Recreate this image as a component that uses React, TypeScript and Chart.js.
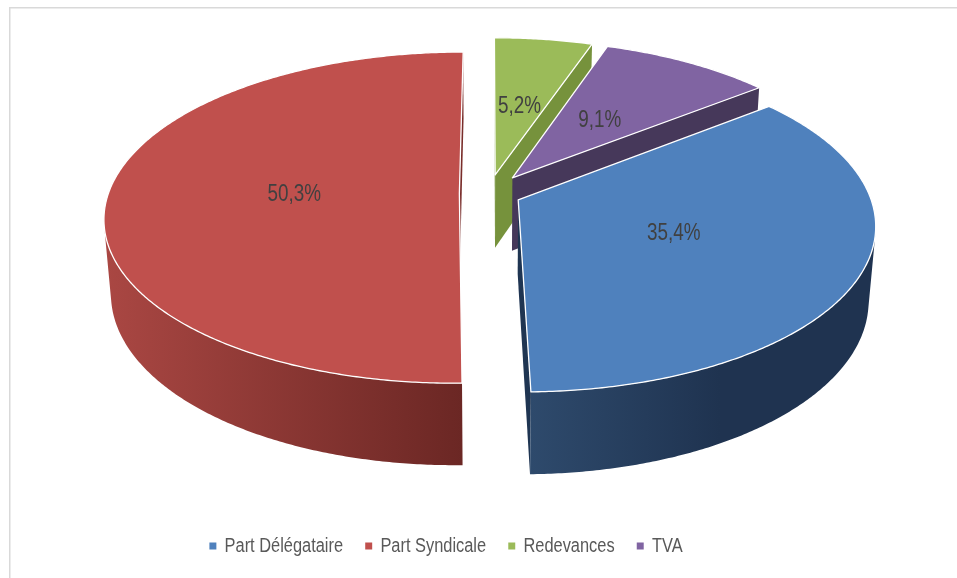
import React, { useEffect, useRef } from 'react';
import { Chart, registerables } from 'chart.js';

Chart.register(...registerables);

// ---- data ----
const CATEGORIES = ['Part Délégataire', 'Part Syndicale', 'Redevances', 'TVA'];
const VALUES = [35.4, 50.3, 5.2, 9.1];

// ---- styles ----
const TOP_COLORS = ['#4F81BD', '#C0504D', '#9BBB59', '#8064A2'];
const WALL_LIGHT = ['#2E4A6C', '#AA4743', '#7E9C42', '#55446E'];
const WALL_DARK = ['#1F3350', '#6B2724', '#6F8A37', '#423556'];
const EDGE_COLORS = ['#1F3552', '#7A2E2B', '#76923C', '#46385A'];
const EXPLODE = [0.093, 0.083, 0.118, 0.12];
const FIRST_SLICE_ANGLE = 51.5;
const VIEW = { cx: 488.5, cy: 193.5, scale: 351, tilt: 27.5, dist: 6.12, depth: 0.241 };
const LABEL_RADIUS = 0.47;
const NARROW = 0.82; // horizontal squeeze imitating Arial Narrow

function fontAvailable(name: string) {
  const c = document.createElement('canvas').getContext('2d')!;
  const sample = 'Part Délégataire 50,3%';
  c.font = '20px monospace';
  const a = c.measureText(sample).width;
  c.font = `20px "${name}", monospace`;
  const b = c.measureText(sample).width;
  return Math.abs(a - b) > 0.5;
}

const PHI = (VIEW.tilt * Math.PI) / 180;
const SIN_P = Math.sin(PHI);
const COS_P = Math.cos(PHI);
const CAM_Y = -VIEW.dist * COS_P;

function proj(x: number, y: number, z: number): [number, number] {
  const v = y * SIN_P + z * COS_P;
  const w = y * COS_P - z * SIN_P;
  const k = 1 / (1 + w / VIEW.dist);
  return [VIEW.cx + VIEW.scale * x * k, VIEW.cy - VIEW.scale * v * k];
}

function rim(ox: number, oy: number, t1: number, t2: number, z: number) {
  const pts: [number, number][] = [];
  const n = Math.max(2, Math.ceil(Math.abs(t2 - t1) / (Math.PI / 360)));
  for (let j = 0; j <= n; j++) {
    const t = t1 + ((t2 - t1) * j) / n;
    pts.push(proj(ox + Math.sin(t), oy + Math.cos(t), z));
  }
  return pts;
}

function polyPath(ctx: CanvasRenderingContext2D, pts: [number, number][]) {
  ctx.beginPath();
  pts.forEach((p, j) => (j ? ctx.lineTo(p[0], p[1]) : ctx.moveTo(p[0], p[1])));
  ctx.closePath();
}

const pie3d = {
  id: 'pie3d',
  afterLayout(chart: any, _args: any, opts: any) {
    const lg = chart.legend;
    if (!lg || lg.__squeezed || (opts && opts.narrow)) return;
    const orig = lg.draw.bind(lg);
    lg.draw = (...a: any[]) => {
      const ctx = chart.ctx as CanvasRenderingContext2D;
      const p = (lg.left + lg.right) / 2;
      ctx.save();
      ctx.translate(p, 0);
      ctx.scale(NARROW, 1);
      ctx.translate(-p, 0);
      orig(...a);
      ctx.restore();
    };
    lg.__squeezed = true;
  },
  beforeDraw(chart: any) {
    const ctx = chart.ctx as CanvasRenderingContext2D;
    ctx.save();
    ctx.fillStyle = '#FFFFFF';
    ctx.fillRect(0, 0, chart.width, chart.height);
    ctx.fillStyle = '#D9D9D9';
    ctx.fillRect(9, 7, chart.width, 1.5);
    ctx.fillRect(9, 7, 1.5, chart.height);
    ctx.restore();
  },
  beforeDatasetsDraw(chart: any, _args: any, opts: any) {
    const ctx = chart.ctx as CanvasRenderingContext2D;
    const meta = chart.getDatasetMeta(0);
    const H = VIEW.depth;
    const slices = meta.data.map((arc: any, i: number) => {
      const { startAngle, endAngle } = arc.getProps(['startAngle', 'endAngle'], true);
      const t1 = startAngle + Math.PI / 2;
      const t2 = endAngle + Math.PI / 2;
      const tm = (t1 + t2) / 2;
      return { i, t1, t2, tm, ox: EXPLODE[i] * Math.sin(tm), oy: EXPLODE[i] * Math.cos(tm) };
    });
    const order = [...slices].sort((a, b) => b.oy - a.oy);
    ctx.save();
    ctx.lineJoin = 'round';
    for (const s of order) {
      const { i, t1, t2, ox, oy } = s;
      const apexT = proj(ox, oy, 0);
      const apexB = proj(ox, oy, -H);
      // radial walls
      const startVis = ox * Math.cos(t1) - Math.sin(t1) * (VIEW.dist * COS_P + oy) > 0;
      const endVis = -ox * Math.cos(t2) + Math.sin(t2) * (VIEW.dist * COS_P + oy) > 0;
      const radial = (t: number) => {
        const pT = proj(ox + Math.sin(t), oy + Math.cos(t), 0);
        const pB = proj(ox + Math.sin(t), oy + Math.cos(t), -H);
        polyPath(ctx, [apexT, pT, pB, apexB]);
        ctx.fillStyle = EDGE_COLORS[i];
        ctx.fill();
      };
      if (startVis) radial(t1);
      if (endVis) radial(t2);
      // outer wall: visible part
      const n = 720;
      let ta = -1, tb = -1;
      for (let j = 0; j <= n; j++) {
        const t = t1 + ((t2 - t1) * j) / n;
        const f = -ox * Math.sin(t) - (oy - CAM_Y) * Math.cos(t) - 1;
        if (f > 0) {
          if (ta < 0) ta = t;
          tb = t;
        }
      }
      if (ta >= 0 && tb > ta) {
        const top = rim(ox, oy, ta, tb, 0);
        const bot = rim(ox, oy, tb, ta, -H);
        const pts = top.concat(bot);
        const xs = pts.map((p) => p[0]);
        const minX = Math.min(...xs), maxX = Math.max(...xs);
        const g = ctx.createLinearGradient(minX, 0, maxX, 0);
        g.addColorStop(0, WALL_LIGHT[i]);
        g.addColorStop(i === 0 ? 0.55 : 1, WALL_DARK[i]);
        g.addColorStop(1, WALL_DARK[i]);
        polyPath(ctx, pts);
        ctx.fillStyle = g;
        ctx.fill();
      }
      // top face
      const topPts = [apexT, ...rim(ox, oy, t1, t2, 0)];
      polyPath(ctx, topPts);
      ctx.fillStyle = TOP_COLORS[i];
      ctx.fill();
      ctx.strokeStyle = '#FFFFFF';
      ctx.lineWidth = 1.3;
      ctx.stroke();
    }
    // labels
    const narrow = opts && opts.narrow;
    const total = VALUES.reduce((a, b) => a + b, 0);
    for (const s of slices) {
      const r = LABEL_RADIUS;
      const [px, py] = proj(s.ox + r * Math.sin(s.tm), s.oy + r * Math.cos(s.tm), 0);
      const pct = ((VALUES[s.i] / total) * 100).toFixed(1).replace('.', ',') + '%';
      ctx.save();
      ctx.translate(px, py);
      if (!narrow) ctx.scale(NARROW, 1);
      ctx.font = narrow ? '23px "Liberation Sans Narrow"' : '23px "Liberation Sans", Arial, sans-serif';
      ctx.textAlign = 'center';
      ctx.textBaseline = 'middle';
      ctx.fillStyle = '#404040';
      ctx.fillText(pct, 0, 0);
      ctx.restore();
    }
    ctx.restore();
    return false;
  },
};

export default function App() {
  const ref = useRef<HTMLCanvasElement>(null);
  useEffect(() => {
    const canvas = ref.current!;
    const narrow = fontAvailable('Liberation Sans Narrow');
    const legendLabels = narrow
      ? { font: { family: '"Liberation Sans Narrow"', size: 20 }, boxWidth: 7, pointStyleWidth: 7, padding: 22 }
      : { font: { family: '"Liberation Sans", Arial, sans-serif', size: 20 }, boxWidth: 8.5, pointStyleWidth: 8.5, padding: 27 };
    const chart = new Chart(canvas, {
      type: 'pie',
      data: {
        labels: CATEGORIES,
        datasets: [{ data: VALUES, backgroundColor: TOP_COLORS, borderWidth: 0 }],
      },
      options: {
        responsive: false,
        animation: false,
        events: [],
        rotation: FIRST_SLICE_ANGLE,
        layout: { padding: { bottom: 12, right: 65, left: 0, top: 0 } },
        plugins: {
          legend: {
            position: 'bottom',
            labels: {
              usePointStyle: true,
              pointStyle: 'rect',
              boxHeight: 7,
              color: '#595959',
              ...legendLabels,
            },
          },
          tooltip: { enabled: false },
          pie3d: { narrow },
        } as any,
      },
      plugins: [pie3d as any],
    });
    return () => chart.destroy();
  }, []);
  return (
    <div style={{ position: 'absolute', left: 0, top: 0, width: 957, height: 578, overflow: 'hidden', background: '#fff' }}>
      <canvas ref={ref} width={957} height={578} style={{ display: 'block' }} />
    </div>
  );
}
